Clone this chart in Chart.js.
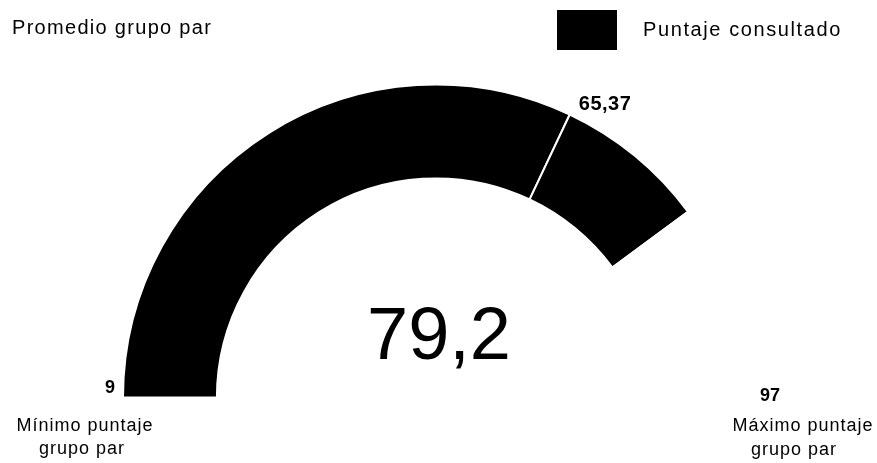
<!DOCTYPE html>
<html>
<head>
<meta charset="utf-8">
<script src="https://cdn.jsdelivr.net/npm/chart.js@4.4.1/dist/chart.umd.min.js"></script>
<style>
  body { margin: 0; background: #fff; }
  #wrap { width: 877px; height: 463px; }
</style>
</head>
<body>
<div id="wrap"><canvas id="gauge" width="877" height="463"></canvas></div>
<script>
// gauge values
const gaugeRange = [9, 97];          // minimo, maximo grupo par
const peerAverage = [65.37];         // promedio grupo par
const consultedScore = [79.2];       // puntaje consultado
const seriesLabels = ["Promedio grupo par", "Puntaje consultado"];
const rangeLabels = [["Mínimo puntaje", "grupo par"], ["Máximo puntaje", "grupo par"]];

const fmt = (v) => String(v).replace(".", ",");

// slices: min -> promedio, promedio -> puntaje, puntaje -> max (empty)
const segments = [
    peerAverage[0] - gaugeRange[0],
    consultedScore[0] - peerAverage[0],
    gaugeRange[1] - consultedScore[0]
];

const gaugeText = {
    id: "gaugeText",
    afterDraw(chart) {
        const ctx = chart.ctx;
        const meta = chart.getDatasetMeta(0);
        const first = meta.data[0];
        const { x, y, outerRadius } = first.getProps(["x", "y", "outerRadius"], true);
        const markAngle = first.getProps(["endAngle"], true).endAngle;

        ctx.save();
        ctx.fillStyle = "#000";
        ctx.textBaseline = "alphabetic";

        // header texts + legend box
        ctx.font = "20px 'Liberation Sans', Arial, sans-serif";
        ctx.letterSpacing = "1.3px";
        ctx.textAlign = "left";
        ctx.fillText(seriesLabels[0], 12, 34);
        ctx.fillRect(557, 10, 60, 40);
        ctx.letterSpacing = "1.6px";
        ctx.fillText(seriesLabels[1], 643, 36);

        // promedio marker label
        ctx.letterSpacing = "0.5px";
        ctx.font = "bold 20px 'Liberation Sans', Arial, sans-serif";
        const mx = x + outerRadius * Math.cos(markAngle);
        const my = y + outerRadius * Math.sin(markAngle);
        ctx.fillText(fmt(peerAverage[0]), mx + 9, my - 5);

        // min / max values
        ctx.letterSpacing = "0px";
        ctx.font = "bold 18px 'Liberation Sans', Arial, sans-serif";
        ctx.textAlign = "right";
        ctx.fillText(fmt(gaugeRange[0]), x - outerRadius - 8, y - 5);
        ctx.textAlign = "left";
        ctx.fillText(fmt(gaugeRange[1]), x + outerRadius + 11, y + 3);

        // captions under the ends
        ctx.font = "18px 'Liberation Sans', Arial, sans-serif";
        ctx.letterSpacing = "1px";
        ctx.textAlign = "center";
        ctx.fillText(rangeLabels[0][0], 85, 431);
        ctx.fillText(rangeLabels[0][1], 82, 454);
        ctx.fillText(rangeLabels[1][0], 803, 431);
        ctx.fillText(rangeLabels[1][1], 794, 455);

        // big score in the middle
        ctx.letterSpacing = "0px";
        ctx.font = "74px 'Liberation Sans', Arial, sans-serif";
        ctx.fillText(fmt(consultedScore[0]), x + 3, y - 39);
        ctx.restore();
    }
};

new Chart(document.getElementById("gauge"), {
    type: "doughnut",
    data: {
        labels: [seriesLabels[0], seriesLabels[1], ""],
        datasets: [{
            data: segments,
            backgroundColor: ["#000", "#000", "#fff"],
            borderColor: "#fff",
            borderWidth: 2
        }]
    },
    options: {
        responsive: false,
        animation: false,
        events: [],
        rotation: -90,
        circumference: 180,
        cutout: "70%",
        layout: { padding: { left: 122, right: 127, top: 83, bottom: 64 } },
        plugins: {
            legend: { display: false },
            tooltip: { enabled: false }
        }
    },
    plugins: [gaugeText]
});
</script>
</body>
</html>
